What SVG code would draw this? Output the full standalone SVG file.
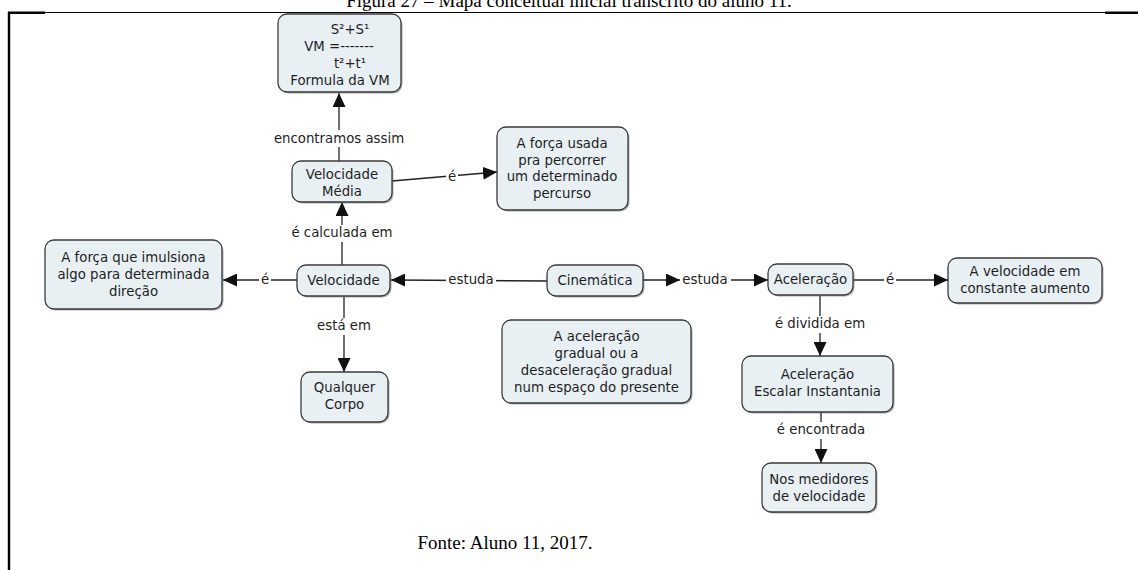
<svg xmlns="http://www.w3.org/2000/svg" width="1138" height="570" viewBox="0 0 1138 570">
  <style>
    .cap { font-family: "Liberation Serif", "Times New Roman", serif; font-size: 19px; fill: #000; }
    .box { fill: #e8f0f4; stroke: #3a3a3a; stroke-width: 1.3; }
    .shadow { fill: #6a6a6a; opacity: 0.55; }
    .t { font-family: "DejaVu Sans", Verdana, sans-serif; font-size: 13.3px; fill: #1e1e1e; text-anchor: middle; }
    .lnk { stroke: #222; stroke-width: 1.3; fill: none; }
    .lbl { font-family: "DejaVu Sans", Verdana, sans-serif; font-size: 13.3px; fill: #1e1e1e; text-anchor: middle; }
    .lblbg { fill: #ffffff; }
  </style>
  <defs>
    <marker id="arr" viewBox="0 0 14 13" refX="14" refY="6.5" markerWidth="14" markerHeight="13" markerUnits="userSpaceOnUse" orient="auto">
      <path d="M0,0 L14,6.5 L0,13 Z" fill="#111"/>
    </marker>
  </defs>

  <rect width="1138" height="570" fill="#ffffff"/>

  <!-- page caption and frame -->
  <text class="cap" x="569" y="7" text-anchor="middle">Figura 27 – Mapa conceitual inicial transcrito do aluno 11.</text>
  <line x1="8" y1="12.8" x2="45" y2="12.8" stroke="#000" stroke-width="2.4"/>
  <line x1="45" y1="12.5" x2="1105" y2="12.5" stroke="#000" stroke-width="1.2"/>
  <line x1="1105" y1="12.8" x2="1138" y2="12.8" stroke="#000" stroke-width="2.4"/>
  <line x1="9" y1="12" x2="9" y2="570" stroke="#000" stroke-width="2.4"/>
  <text class="cap" x="505" y="549" text-anchor="middle">Fonte: Aluno 11, 2017.</text>

  <!-- connectors -->
  <g id="connectors">
    <!-- Velocidade Média -> Formula -->
    <line class="lnk" x1="339" y1="161" x2="339" y2="93" marker-end="url(#arr)"/>
    <rect class="lblbg" x="268" y="130" width="142" height="17"/>
    <text class="lbl" x="339" y="143">encontramos assim</text>

    <!-- Velocidade Média -> A força usada -->
    <line class="lnk" x1="392" y1="181" x2="497" y2="172" marker-end="url(#arr)"/>
    <rect class="lblbg" x="446" y="169" width="12" height="16"/>
    <text class="lbl" x="452" y="181">é</text>

    <!-- Velocidade -> Velocidade Média -->
    <line class="lnk" x1="342" y1="265" x2="342" y2="202" marker-end="url(#arr)"/>
    <rect class="lblbg" x="288" y="225" width="108" height="17"/>
    <text class="lbl" x="342" y="237">é calculada em</text>

    <!-- Velocidade -> A força que imulsiona -->
    <line class="lnk" x1="297" y1="280" x2="223" y2="280" marker-end="url(#arr)"/>
    <rect class="lblbg" x="259" y="272" width="12" height="16"/>
    <text class="lbl" x="265" y="284">é</text>

    <!-- Cinemática -> Velocidade -->
    <line class="lnk" x1="547" y1="281" x2="391" y2="280" marker-end="url(#arr)"/>
    <rect class="lblbg" x="446" y="272" width="50" height="16"/>
    <text class="lbl" x="471" y="284">estuda</text>

    <!-- Cinemática -> Aceleração -->
    <line class="lnk" x1="643" y1="280" x2="680" y2="280" marker-end="url(#arr)"/>
    <line class="lnk" x1="731" y1="280" x2="768" y2="280" marker-end="url(#arr)"/>
    <text class="lbl" x="705" y="284">estuda</text>

    <!-- Aceleração -> A velocidade em constante aumento -->
    <line class="lnk" x1="853" y1="280" x2="948" y2="280" marker-end="url(#arr)"/>
    <rect class="lblbg" x="884" y="272" width="12" height="16"/>
    <text class="lbl" x="890" y="284">é</text>

    <!-- Velocidade -> Qualquer Corpo -->
    <line class="lnk" x1="344" y1="297" x2="344" y2="372" marker-end="url(#arr)"/>
    <rect class="lblbg" x="314" y="318" width="60" height="17"/>
    <text class="lbl" x="344" y="330">está em</text>

    <!-- Aceleração -> Aceleração Escalar Instantania -->
    <line class="lnk" x1="820" y1="296" x2="820" y2="356" marker-end="url(#arr)"/>
    <rect class="lblbg" x="772" y="316" width="97" height="17"/>
    <text class="lbl" x="820" y="328">é dividida em</text>

    <!-- Aceleração Escalar Instantania -> Nos medidores de velocidade -->
    <line class="lnk" x1="821" y1="412" x2="821" y2="463" marker-end="url(#arr)"/>
    <rect class="lblbg" x="775" y="422" width="92" height="17"/>
    <text class="lbl" x="821" y="434">é encontrada</text>
  </g>

  <!-- concept nodes -->
  <g id="formula">
    <rect class="shadow" x="279.5" y="15.5" width="123" height="78" rx="9"/>
    <rect class="box" x="278" y="14" width="123" height="78" rx="9"/>
    <text class="t" x="350" y="34">S²+S¹</text>
    <text class="t" x="339" y="51">VM =-------</text>
    <text class="t" x="350" y="68">t²+t¹</text>
    <text class="t" x="340" y="85">Formula da VM</text>
  </g>

  <g id="velocidade-media">
    <rect class="shadow" x="293.5" y="162.5" width="100" height="41" rx="9"/>
    <rect class="box" x="292" y="161" width="100" height="41" rx="9"/>
    <text class="t" x="342" y="179">Velocidade</text>
    <text class="t" x="342" y="196">Média</text>
  </g>

  <g id="forca-usada">
    <rect class="shadow" x="498.5" y="128.5" width="131" height="83" rx="9"/>
    <rect class="box" x="497" y="127" width="131" height="83" rx="9"/>
    <text class="t" x="562" y="148">A força usada</text>
    <text class="t" x="562" y="164.5">pra percorrer</text>
    <text class="t" x="562" y="181">um determinado</text>
    <text class="t" x="562" y="197.5">percurso</text>
  </g>

  <g id="forca-imulsiona">
    <rect class="shadow" x="46.5" y="241.5" width="177" height="69" rx="9"/>
    <rect class="box" x="45" y="240" width="177" height="69" rx="9"/>
    <text class="t" x="133.5" y="262">A força que imulsiona</text>
    <text class="t" x="133.5" y="279">algo para determinada</text>
    <text class="t" x="133.5" y="296">direção</text>
  </g>

  <g id="velocidade">
    <rect class="shadow" x="298.5" y="266.5" width="93" height="31" rx="9"/>
    <rect class="box" x="297" y="265" width="93" height="31" rx="9"/>
    <text class="t" x="343.5" y="285">Velocidade</text>
  </g>

  <g id="cinematica">
    <rect class="shadow" x="548.5" y="266.5" width="96" height="31" rx="9"/>
    <rect class="box" x="547" y="265" width="96" height="31" rx="9"/>
    <text class="t" x="595" y="285">Cinemática</text>
  </g>

  <g id="aceleracao">
    <rect class="shadow" x="769.5" y="265.5" width="85" height="31" rx="9"/>
    <rect class="box" x="768" y="264" width="85" height="31" rx="9"/>
    <text class="t" x="810.5" y="284">Aceleração</text>
  </g>

  <g id="velocidade-aumento">
    <rect class="shadow" x="949.5" y="259.5" width="154" height="45" rx="9"/>
    <rect class="box" x="948" y="258" width="154" height="45" rx="9"/>
    <text class="t" x="1025" y="276">A velocidade em</text>
    <text class="t" x="1025" y="293">constante aumento</text>
  </g>

  <g id="aceleracao-gradual">
    <rect class="shadow" x="503.5" y="321.5" width="189" height="83" rx="9"/>
    <rect class="box" x="502" y="320" width="189" height="83" rx="9"/>
    <text class="t" x="596.5" y="341">A aceleração</text>
    <text class="t" x="596.5" y="358">gradual ou a</text>
    <text class="t" x="596.5" y="375">desaceleração gradual</text>
    <text class="t" x="596.5" y="392">num espaço do presente</text>
  </g>

  <g id="aceleracao-escalar">
    <rect class="shadow" x="743.5" y="357.5" width="151" height="56" rx="9"/>
    <rect class="box" x="742" y="356" width="151" height="56" rx="9"/>
    <text class="t" x="817.5" y="379">Aceleração</text>
    <text class="t" x="817.5" y="396">Escalar Instantania</text>
  </g>

  <g id="qualquer-corpo">
    <rect class="shadow" x="302.5" y="373.5" width="87" height="50" rx="9"/>
    <rect class="box" x="301" y="372" width="87" height="50" rx="9"/>
    <text class="t" x="344.5" y="392">Qualquer</text>
    <text class="t" x="344.5" y="409">Corpo</text>
  </g>

  <g id="medidores">
    <rect class="shadow" x="763.5" y="464.5" width="114" height="49" rx="9"/>
    <rect class="box" x="762" y="463" width="114" height="49" rx="9"/>
    <text class="t" x="819" y="484">Nos medidores</text>
    <text class="t" x="819" y="501">de velocidade</text>
  </g>
</svg>
